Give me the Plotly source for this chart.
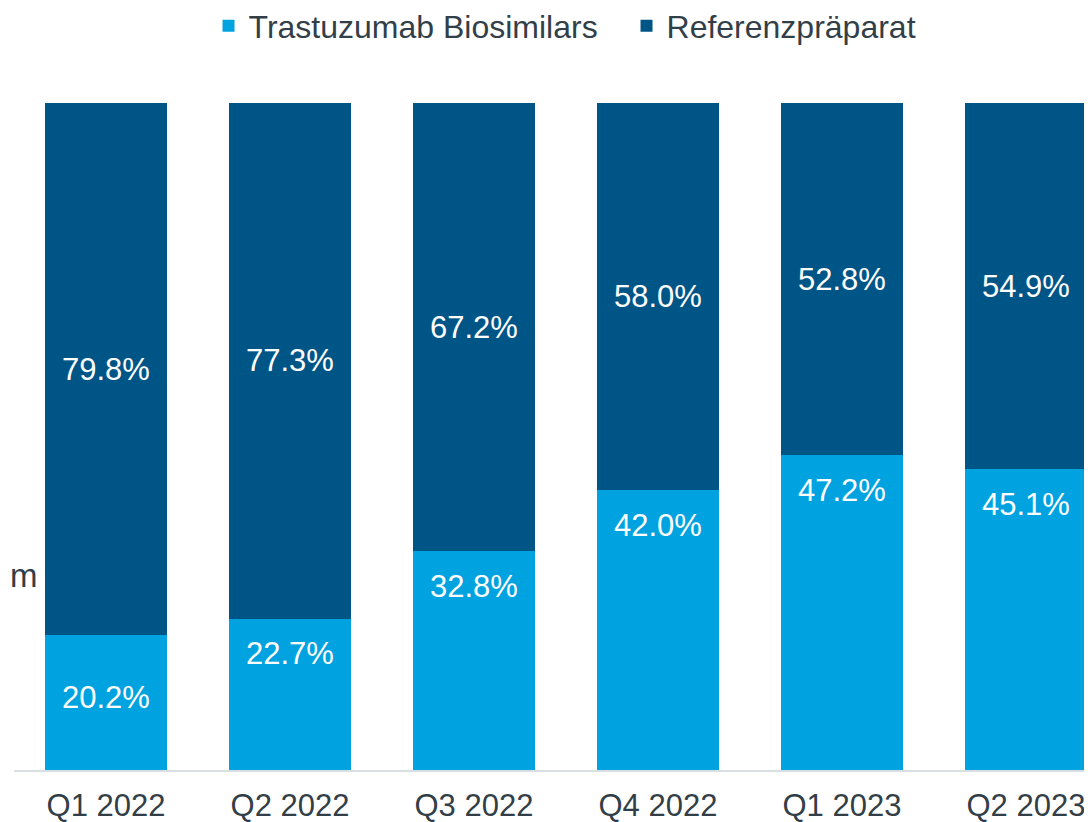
import plotly.graph_objects as go

quarters = ['Q1 2022', 'Q2 2022', 'Q3 2022', 'Q4 2022', 'Q1 2023', 'Q2 2023']
biosimilars = [20.2, 22.7, 32.8, 42.0, 47.2, 45.1]
reference = [79.8, 77.3, 67.2, 58.0, 52.8, 54.9]

LIGHT = '#00a3e0'
DARK = '#005587'
TEXT = '#333f48'

fig = go.Figure()
fig.add_trace(go.Bar(x=quarters, y=biosimilars, name='Trastuzumab Biosimilars',
                     marker_color=LIGHT, marker_line_width=0))
fig.add_trace(go.Bar(x=quarters, y=reference, name='Referenzpräparat',
                     marker_color=DARK, marker_line_width=0))

# value labels: dark centred in segment, light just below the top of its segment
for q, b, r in zip(quarters, biosimilars, reference):
    fig.add_annotation(x=q, y=b + r / 2, text=f'{r:.1f}%', showarrow=False,
                       font=dict(size=31, color='white'))
    ly = b / 2 + 0.8 if b < 21 else b - 5.3
    fig.add_annotation(x=q, y=ly, text=f'{b:.1f}%', showarrow=False,
                       font=dict(size=31, color='white'))

# leftover of a cut-off axis title
fig.add_annotation(xref='paper', x=0, xanchor='left', xshift=-6, y=29.2, text='m',
                   showarrow=False, font=dict(size=33, color=TEXT))

# page body adds an 8px offset, so the figure is a bit smaller than the window
fig.update_layout(
    width=1084, height=814,
    barmode='stack', bargap=0.337,
    margin=dict(l=6, r=0, t=95, b=52, autoexpand=False),
    plot_bgcolor='white', paper_bgcolor='white',
    font=dict(family='Liberation Sans, Arial, sans-serif', color=TEXT, size=31),
    legend=dict(orientation='h', x=0.5682, xanchor='center', y=0.978, yref='container',
                yanchor='middle', font=dict(size=32), traceorder='normal', itemwidth=30,
                entrywidth=373),
    xaxis=dict(range=[-0.5, 5.359], showline=True, linecolor='#d9dee2', linewidth=2,
               ticks='', tickfont=dict(size=31), showgrid=False, automargin=False,
               ticklabelstandoff=7),
    yaxis=dict(range=[0, 100], visible=False, showgrid=False, automargin=False),
    showlegend=True,
)

fig.write_html('out.html')
